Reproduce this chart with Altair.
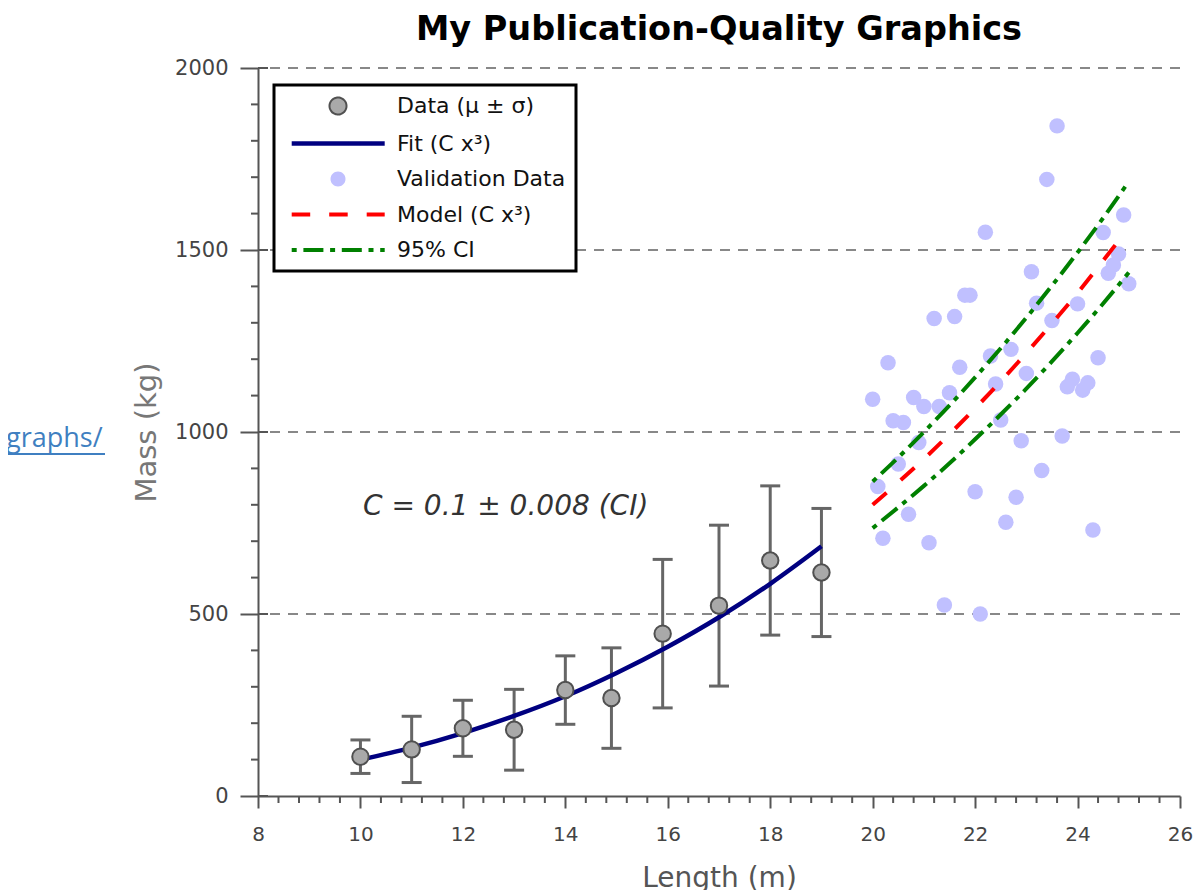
import altair as alt
import pandas as pd

FONT = "DejaVu Sans"

# ---- measured data (mean +/- sd) ----
length = [10, 11, 12, 13, 14, 14.9, 15.9, 17, 18, 19]
mass_mean = [108, 128, 186, 182, 291, 269, 446, 523, 647, 614]
mass_sd = [46, 91, 77, 111, 94, 138, 204, 221, 205, 176]

# ---- fitted curve (C x^3) ----
fit_x = [10, 11, 12, 13, 14, 15, 16, 17, 18, 19]
fit_y = [100, 133, 173, 220, 274, 338, 410, 491, 583, 686]

# ---- validation data ----
val_x = [20.0, 20.1, 20.2, 20.3, 20.4, 20.5, 20.6, 20.7, 20.8, 20.9,
         21.0, 21.1, 21.2, 21.3, 21.4, 21.5, 21.6, 21.7, 21.8, 21.9,
         22.0, 22.1, 22.2, 22.3, 22.4, 22.5, 22.6, 22.7, 22.8, 22.9,
         23.0, 23.1, 23.2, 23.3, 23.4, 23.5, 23.6, 23.7, 23.8, 23.9,
         24.0, 24.1, 24.2, 24.3, 24.4, 24.5, 24.6, 24.7, 24.8, 24.9, 25.0]
val_y = [1090, 850, 708, 1190, 1031, 912, 1026, 774, 1095, 971,
         1070, 696, 1312, 1070, 525, 1108, 1317, 1178, 1376, 1376,
         836, 500, 1549, 1209, 1132, 1033, 752, 1227, 821, 976,
         1161, 1440, 1354, 894, 1694, 1306, 1841, 989, 1124, 1145,
         1352, 1115, 1135, 731, 1204, 1548, 1436, 1459, 1489, 1596, 1407]

# ---- model and 95% CI curves ----
model_x = [20, 20.5, 21, 21.5, 22, 22.5, 23, 23.5, 24, 24.5, 24.8]
model_y = [800, 862, 926, 994, 1065, 1139, 1217, 1298, 1382, 1471, 1525]
ci_x = [20, 20.5, 21, 21.5, 22, 22.5, 23, 23.5, 24, 24.5, 25]
ci_upper = [864, 930, 1000, 1073, 1150, 1230, 1314, 1402, 1493, 1588, 1688]
ci_lower = [736, 793, 852, 914, 980, 1048, 1119, 1194, 1272, 1353, 1438]

# ---- axes / ticks ----
x_ticks = [8, 10, 12, 14, 16, 18, 20, 22, 24, 26]
y_ticks = [0, 500, 1000, 1500, 2000]
grid_values = [500, 1000, 1500, 2000]
x_minor = [round(8 + 0.4 * i, 1) for i in range(46) if i % 5 != 0]
y_minor = [v for v in range(100, 2000, 100) if v % 500 != 0]

annotation = ["C = 0.1 \u00b1 0.008 (CI)"]
annotation_x = [10.05]
annotation_y = [794]

series = ["Data (\u03bc \u00b1 \u03c3)", "Fit (C x\u00b3)", "Validation Data",
          "Model (C x\u00b3)", "95% CI"]

# ---- frames ----
df_data = pd.DataFrame({"length": length, "mean": mass_mean,
                        "lo": [m - s for m, s in zip(mass_mean, mass_sd)],
                        "hi": [m + s for m, s in zip(mass_mean, mass_sd)]})
df_fit = pd.DataFrame({"fx": fit_x, "fy": fit_y})
df_val = pd.DataFrame({"vx": val_x, "vy": val_y})
df_model = pd.DataFrame({"mx": model_x, "my": model_y})
df_ci = pd.DataFrame({"cx": ci_x + ci_x, "cy": ci_upper + ci_lower,
                      "bound": ["upper"] * len(ci_x) + ["lower"] * len(ci_x)})
df_grid = pd.DataFrame({"g": grid_values})
df_xminor = pd.DataFrame({"xm": x_minor})
df_yminor = pd.DataFrame({"ym": y_minor})
df_ymajor = pd.DataFrame({"yM": y_ticks})
df_annot = pd.DataFrame({"ax": annotation_x, "ay": annotation_y, "t": annotation})
df_leg = pd.DataFrame({"series": series})
df_one = pd.DataFrame({"k": [0]})

x_scale = alt.Scale(domain=[8, 26], nice=False, zero=False)
y_scale = alt.Scale(domain=[0, 2000], nice=False, zero=False)

x_axis = alt.Axis(values=x_ticks, title="Length (m)", grid=False, format="d",
                  domainColor="#555555", domainWidth=2, tickColor="#555555",
                  tickWidth=2, tickSize=12, labelFont=FONT, labelFontSize=20,
                  labelColor="#444444", labelPadding=16, labelFlush=False,
                  titleFont=FONT, titleFontSize=28, titleFontWeight="normal",
                  titleColor="#555555", titlePadding=20)
y_axis = alt.Axis(values=y_ticks, title="Mass (kg)", grid=False, format="d",
                  domainColor="#555555", domainWidth=2, tickColor="#555555",
                  tickWidth=2, tickSize=18, labelFont=FONT, labelFontSize=21,
                  labelColor="#444444", labelPadding=12, labelFlush=False,
                  titleFont=FONT, titleFontSize=29, titleFontWeight="normal",
                  titleColor="#777777", titlePadding=13)


def X(f):
    return alt.X(f"{f}:Q", scale=x_scale, axis=x_axis)


def Y(f):
    return alt.Y(f"{f}:Q", scale=y_scale, axis=y_axis)


grid = alt.Chart(df_grid).mark_rule(color="#888888", strokeWidth=2,
                                    strokeDash=[10, 8]).encode(y=Y("g"))
y_minor_r = alt.Chart(df_yminor).mark_rule(color="#555555", strokeWidth=2).encode(
    y=Y("ym"), x=alt.value(-7), x2=alt.value(0))
y_inner_r = alt.Chart(df_ymajor).mark_rule(color="#555555", strokeWidth=2).encode(
    y=Y("yM"), x=alt.value(0), x2=alt.value(10))
x_minor_r = alt.Chart(df_xminor).mark_rule(color="#555555", strokeWidth=2).encode(
    x=X("xm"), y=alt.value(728), y2=alt.value(735))

err = alt.Chart(df_data).mark_rule(color="#666666", strokeWidth=3).encode(
    x=X("length"), y=Y("lo"), y2="hi")
cap_lo = alt.Chart(df_data).mark_tick(orient="horizontal", size=20, thickness=3,
                                      color="#666666", opacity=1).encode(
    x=X("length"), y=Y("lo"))
cap_hi = alt.Chart(df_data).mark_tick(orient="horizontal", size=20, thickness=3,
                                      color="#666666", opacity=1).encode(
    x=X("length"), y=Y("hi"))
fit = alt.Chart(df_fit).mark_line(color="#000080", strokeWidth=4.5,
                                  interpolate="monotone").encode(x=X("fx"), y=Y("fy"))
pts = alt.Chart(df_data).mark_point(filled=True, shape="circle", size=270,
                                    color="#a9a9a9", stroke="#505050",
                                    strokeWidth=2, opacity=1).encode(
    x=X("length"), y=Y("mean"))
val = alt.Chart(df_val).mark_circle(size=240, color="#c0c0ff", opacity=1).encode(
    x=X("vx"), y=Y("vy"))
model = alt.Chart(df_model).mark_line(color="#ff0000", strokeWidth=4,
                                      strokeDash=[18.5, 19],
                                      interpolate="monotone").encode(
    x=X("mx"), y=Y("my"))
ci = alt.Chart(df_ci).mark_line(color="#008000", strokeWidth=4,
                                strokeDash=[5, 6.7, 20, 6.7],
                                interpolate="monotone").encode(
    x=X("cx"), y=Y("cy"), detail="bound:N")
annot = alt.Chart(df_annot).mark_text(align="left", baseline="middle", font=FONT,
                                      fontSize=28, fontStyle="italic",
                                      color="#333333").encode(
    x=X("ax"), y=Y("ay"), text="t:N")

# legend-only layer (no visible marks)
line_path = "M-11,0M-3.3,0H89.7"
circ_data = "M51.5,0A8.5,8.5,0,1,1,34.5,0A8.5,8.5,0,1,1,51.5,0Z"
circ_val = "M50.5,0A7.5,7.5,0,1,1,35.5,0A7.5,7.5,0,1,1,50.5,0Z"
leg = alt.Legend(title=None, orient="none", legendX=16, legendY=17, padding=10,
                 rowPadding=13.5, labelOffset=91, labelFont=FONT,
                 labelFontSize=22, labelColor="#111111", labelLimit=400,
                 symbolSize=4, fillColor="white", strokeColor="black")
legend_layer = alt.Chart(df_leg).transform_filter("false").mark_point(
    filled=True, opacity=1, size=4).encode(
    shape=alt.Shape("series:N", legend=leg, scale=alt.Scale(
        domain=series, range=[circ_data, line_path, circ_val, line_path, line_path])),
    fill=alt.Fill("series:N", legend=leg, scale=alt.Scale(
        domain=series, range=["#a9a9a9", "transparent", "#c0c0ff", "transparent", "transparent"])),
    stroke=alt.Stroke("series:N", legend=leg, scale=alt.Scale(
        domain=series, range=["#505050", "#000080", "transparent", "#ff0000", "#008000"])),
    strokeWidth=alt.StrokeWidth("series:N", legend=leg, scale=alt.Scale(
        type="ordinal", domain=series, range=[2, 4.5, 0, 4, 4])),
    strokeDash=alt.StrokeDash("series:N", legend=leg, scale=alt.Scale(
        domain=series, range=[[1, 0], [1, 0], [1, 0], [18.5, 19], [5, 6.7, 20, 6.7]])),
)

link_text = alt.Chart(df_one).mark_text(align="left", baseline="alphabetic",
                                        font="Open Sans", fontSize=27,
                                        color="#3f7fc1").encode(
    x=alt.value(-252), y=alt.value(379), text=alt.value("graphs/"))
link_line = alt.Chart(df_one).mark_rule(color="#3f7fc1", strokeWidth=2).encode(
    x=alt.value(-252), x2=alt.value(-153), y=alt.value(386))

chart = alt.layer(
    grid, y_minor_r, y_inner_r, x_minor_r, err, cap_lo, cap_hi, fit, pts,
    val, model, ci, annot, legend_layer, link_text, link_line
).properties(
    width=922, height=728,
    title=alt.TitleParams("My Publication-Quality Graphics", font=FONT,
                          fontSize=33.5, fontWeight="bold", color="#000000",
                          anchor="middle", baseline="alphabetic", offset=-16),
    padding={"left": 250, "top": 60, "right": 14, "bottom": 94},
    autosize=alt.AutoSizeParams(type="none"),
).configure_view(stroke=None).configure_legend(strokeWidth=3)

chart.save("out.html", embed_options={"renderer": "svg", "actions": False})
